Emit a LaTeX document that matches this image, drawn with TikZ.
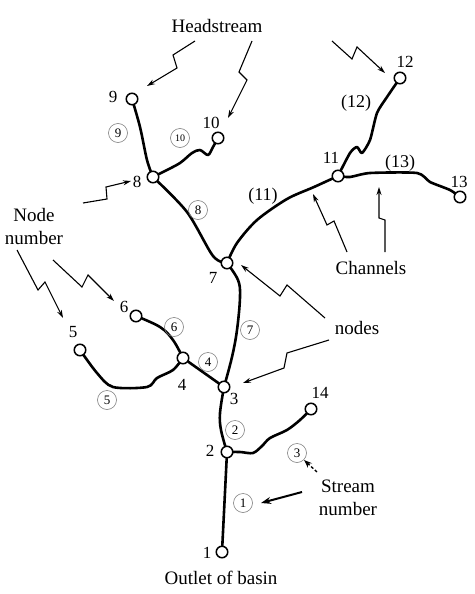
\documentclass[tikz,border=0pt]{standalone}
\usepackage{fontspec}
\setmainfont{Liberation Serif}
\usetikzlibrary{arrows.meta}
\pgfdeclarelayer{bg}
\pgfsetlayers{bg,main}
\begin{document}
\begin{tikzpicture}[x=1pt,y=-1pt,
 jn/.style={circle,draw,fill=white,line width=1.5pt,minimum size=11.5pt,inner sep=0pt},
 chan/.style={line width=2.6pt,line join=round,line cap=round},
 ptr/.style={line width=1.1pt,line join=miter,-{Stealth[length=8pt,width=5pt]}},
 nlab/.style={font=\fontsize{17}{17}\selectfont,inner sep=0pt},
 txt/.style={font=\fontsize{19}{23}\selectfont,inner sep=0pt,align=center},
 snum/.style={circle,draw=gray,line width=0.6pt,minimum size=19pt,inner sep=0pt,font=\fontsize{13}{13}\selectfont},
 pnum/.style={font=\fontsize{18}{18}\selectfont,inner sep=0pt}]
\useasboundingbox (0,0) rectangle (474,594);

% junction nodes
\node[jn] (n1) at (222,552) {};
\node[jn] (n2) at (227,452) {};
\node[jn] (n3) at (224,387) {};
\node[jn] (n4) at (183,358) {};
\node[jn] (n5) at (80,350) {};
\node[jn] (n6) at (136,316) {};
\node[jn] (n7) at (227,263) {};
\node[jn] (n8) at (153,177) {};
\node[jn] (n9) at (132,99) {};
\node[jn] (n10) at (218,138) {};
\node[jn] (n11) at (338,176) {};
\node[jn] (n12) at (400,78) {};
\node[jn] (n13) at (460,197) {};
\node[jn] (n14) at (311,409) {};

% channels
\begin{pgfonlayer}{bg}
\fill[white] (0,0) rectangle (474,594);
\draw[chan] (n1) -- (n2);
\draw[chan] plot[smooth,tension=0.6] coordinates {(n2) (221,430) (220,413) (n3)};
\draw[chan] plot[smooth,tension=0.5] coordinates {(n2) (240,452) (253,453) (262,446) (270,438) (287,430) (300,420) (n14)};
\draw[chan] plot[smooth,tension=0.6] coordinates {(n3) (232,357) (237,330) (240,297) (238,280) (n7)};
\draw[chan] (n3) -- (n4);
\draw[chan] plot[smooth,tension=0.5] coordinates {(n4) (173,370) (157,378) (147,387) (113,387) (97,373) (n5)};
\draw[chan] plot[smooth,tension=0.6] coordinates {(n6) (160,327) (173,340) (n4)};
\draw[chan] plot[smooth,tension=0.5] coordinates {(n8) (187,212) (213,256) (n7)};
\draw[chan] plot[smooth,tension=0.6] coordinates {(n9) (140,127) (147,160) (n8)};
\draw[chan] plot[smooth,tension=0.5] coordinates {(n8) (163,172) (180,163) (192,153) (200,150) (208,155) (213,147) (n10)};
\draw[chan] plot[smooth,tension=0.5] coordinates {(n7) (237,243) (257,220) (287,199) (314,187) (n11)};
\draw[chan] plot[smooth,tension=0.4] coordinates {(n11) (350,153) (357,147) (362,153) (370,140) (377,113) (387,97) (n12)};
\draw[chan] plot[smooth,tension=0.4] coordinates {(n11) (350,177) (370,173) (417,173) (430,182) (450,190) (n13)};
\end{pgfonlayer}

% node numbers
\node[nlab] (l1) at (207,553) {1};
\node[nlab] (l2) at (210,451) {2};
\node[nlab] (l3) at (234,399) {3};
\node[nlab] (l4) at (182,385) {4};
\node[nlab] (l5) at (73,332) {5};
\node[nlab] (l6) at (124,307) {6};
\node[nlab] (l7) at (213,278) {7};
\node[nlab] (l8) at (137,182) {8};
\node[nlab] (l9) at (113,97) {9};
\node[nlab] (l10) at (211,123) {10};
\node[nlab] (l11) at (331,158) {11};
\node[nlab] (l12) at (405,62) {12};
\node[nlab] (l13) at (459,182) {13};
\node[nlab] (l14) at (320,393) {14};

% stream numbers
\node[snum] (s1) at (243,503) {1};
\node[snum] (s2) at (235,430) {2};
\node[snum] (s3) at (297,453) {3};
\node[snum] (s4) at (208,362) {4};
\node[snum] (s5) at (107,400) {5};
\node[snum] (s6) at (174,327) {6};
\node[snum] (s7) at (250,330) {7};
\node[snum] (s8) at (198,210) {8};
\node[snum] (s9) at (118,133) {9};
\node[snum,font=\fontsize{10}{10}\selectfont] (s10) at (180,138) {10};
\node[pnum] (s11) at (263,196) {(11)};
\node[pnum] (s12) at (356,103) {(12)};
\node[pnum] (s13) at (400,163) {(13)};

% annotation texts
\node[txt] (thead) at (217,26) {Headstream};
\node[txt] (tnode) at (34,226) {Node\\number};
\node[txt] (tchan) at (371,268) {Channels};
\node[txt] (tnodes) at (357,328) {nodes};
\node[txt] (tstream) at (348,498) {Stream\\number};
\node[txt] (tout) at (221,578) {Outlet of basin};

% zigzag pointers
\draw[ptr] (195,41) -- (173,55) -- (177,68) -- (147,86);
\draw[ptr] (252,41) -- (239,72) -- (247,80) -- (228,118);
\draw[ptr] (332,41) -- (352,59) -- (357,47) -- (385,73);
\draw[ptr] (83,203) -- (107,199) -- (106,187) -- (131,181);
\draw[ptr] (17,250) -- (38,290) -- (45,282) -- (63,318);
\draw[ptr] (53,260) -- (82,287) -- (88,275) -- (114,301);
\draw[ptr] (347,252) -- (334,221) -- (327,225) -- (313,194);
\draw[ptr] (385,252) -- (385,220) -- (379,218) -- (379,187);
\draw[ptr] (325,318) -- (287,285) -- (280,296) -- (241,265);
\draw[ptr] (329,340) -- (287,353) -- (284,368) -- (243,383);
\draw[ptr,line width=1.3pt,densely dashed,-{Stealth[length=8pt,width=6pt]}] (317,472) -- (304,460);
\draw[ptr,line width=2pt,-{Stealth[length=10pt,width=7pt]}] (302,492) -- (261,503);
\end{tikzpicture}
\end{document}
